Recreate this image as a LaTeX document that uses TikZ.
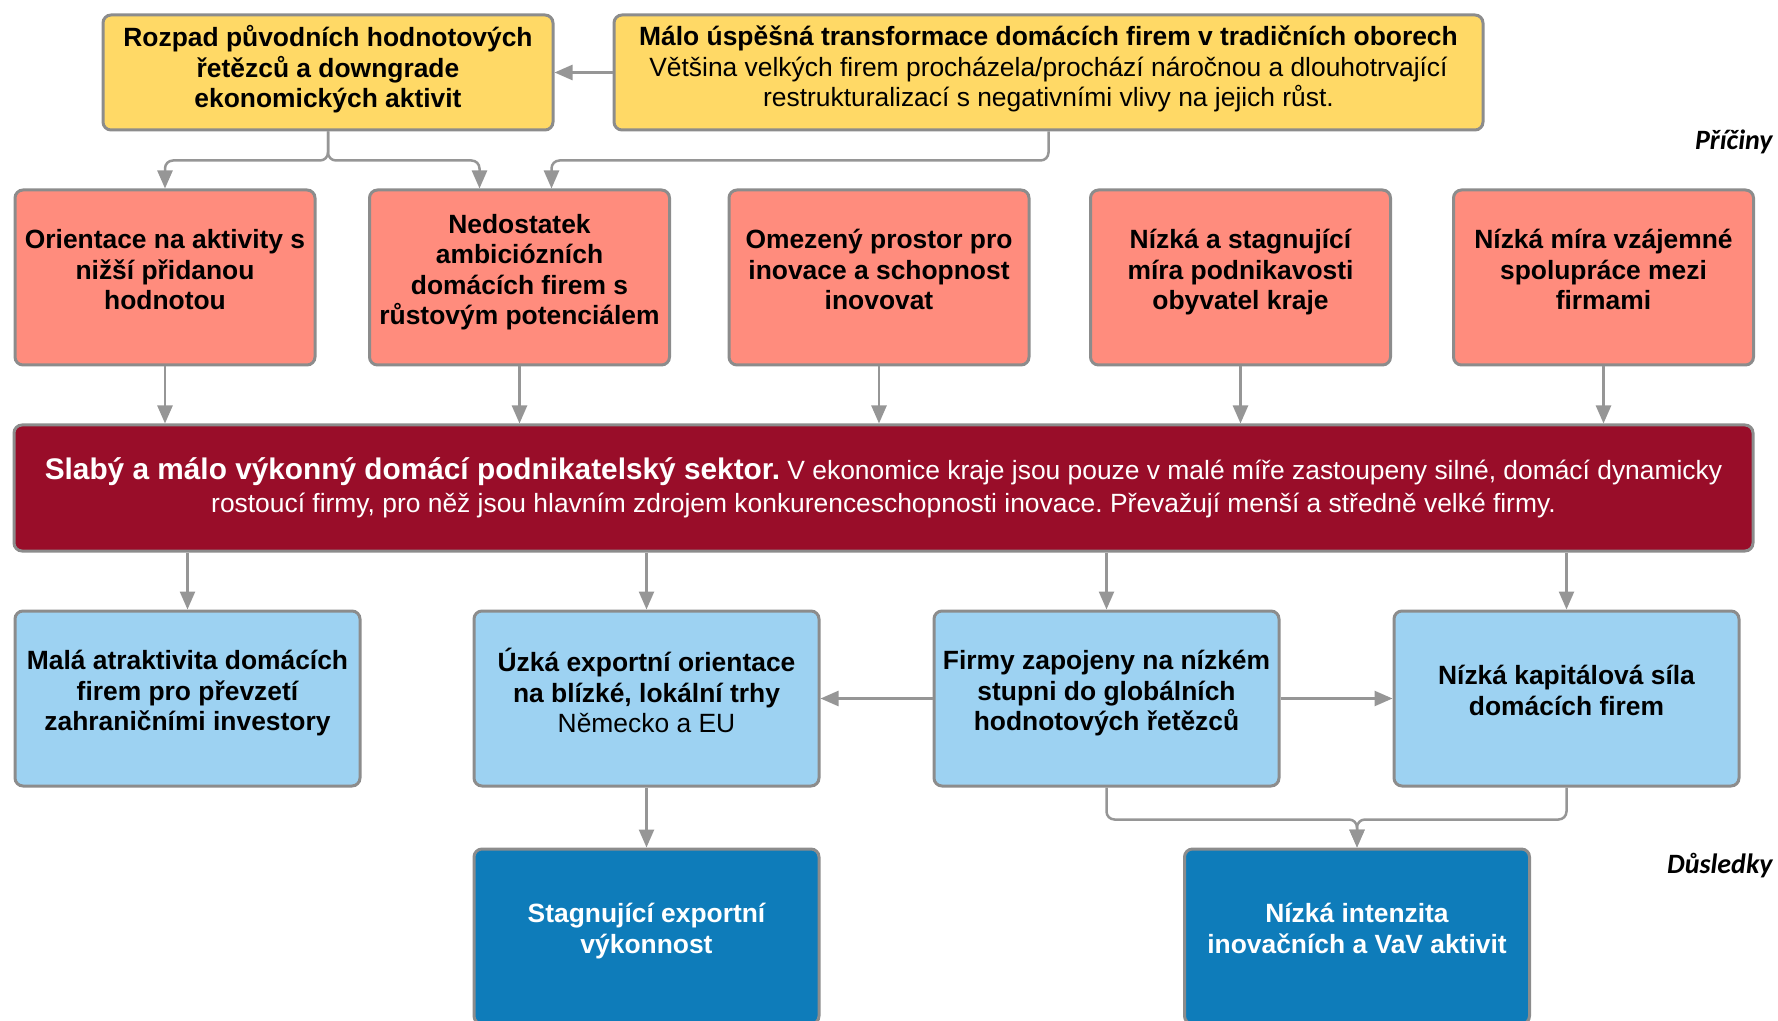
\documentclass[tikz,border=0pt]{standalone}
\usepackage{fontspec}
\setmainfont{Liberation Sans}
\newfontfamily\sidefont{Carlito}
\usepackage{xcolor}
\definecolor{lightyellow}{RGB}{255,217,102}
\definecolor{salmon}{RGB}{255,140,125}
\definecolor{winered}{RGB}{153,13,41}
\definecolor{skyblue}{RGB}{157,210,242}
\definecolor{deepblue}{RGB}{14,124,186}
\definecolor{boxline}{RGB}{140,140,140}
\definecolor{linkgray}{RGB}{150,150,150}
\usepackage{tikz}
\usetikzlibrary{arrows.meta}
\frenchspacing
\newcommand{\boxfont}{\fontsize{13.2}{15.3}\selectfont}
\newcommand{\widthred}{150pt}
\newcommand{\widthblue}{172.5pt}
\newcommand{\heightbox}{87.5pt}
\tikzset{
    box/.style={draw=boxline, line width=1.5pt, rounded corners=4pt, align=center, inner sep=2pt, font=\boxfont\bfseries},
    lifted/.style={box, text depth=8pt},
    reason/.style={lifted, fill=lightyellow, minimum height=57.5pt, text depth=6pt},
    cause/.style={lifted, fill=salmon, minimum width=\widthred, minimum height=\heightbox},
    core/.style={box, fill=winered, text=white, font=\fontsize{13.2}{16.5}\selectfont, minimum width=869.5pt, minimum height=63pt},
    effect/.style={lifted, fill=skyblue, minimum width=\widthblue, minimum height=\heightbox},
    impact/.style={lifted, fill=deepblue, text=white, minimum width=\widthblue, minimum height=\heightbox},
    link/.style={draw=linkgray, line width=1.25pt, rounded corners=4pt, -{Triangle[length=9pt, width=7.5pt]}},
    side/.style={anchor=east, inner sep=0pt, font=\sidefont\fontsize{14}{16}\selectfont\bfseries\itshape}
}

\begin{document}
\begin{tikzpicture}[x=0.5pt, y=-0.5pt]
      \useasboundingbox (0,0) rectangle (1778,1021);

      % causes
      \path
          (328,72.5) node[reason, minimum width=225pt] (reason-decline)
              {Rozpad původních hodnotových\\ řetězců a downgrade\\ ekonomických aktivit}
          (1048.5,72.5) node[reason, minimum width=434.5pt] (reason-transform)
              {Málo úspěšná transformace domácích firem v tradičních oborech\\
               \mdseries Většina velkých firem procházela/prochází náročnou a dlouhotrvající\\
               \mdseries restrukturalizací s negativními vlivy na jejich růst.}
          (1773,142) node[side] (label-causes) {Příčiny};

      \path
          (165,277.5) node[cause] (cause-lower) {Orientace na aktivity s\\ nižší přidanou\\ hodnotou}
          (519.5,277.5) node[cause] (cause-ambition) {Nedostatek\\ ambiciózních\\ domácích firem s\\ růstovým potenciálem}
          (879,277.5) node[cause] (cause-space) {Omezený prostor pro\\ inovace a schopnost\\ inovovat}
          (1240.5,277.5) node[cause] (cause-enterprise) {Nízká a stagnující\\ míra podnikavosti\\ obyvatel kraje}
          (1603.5,277.5) node[cause] (cause-cooperation) {Nízká míra vzájemné\\ spolupráce mezi\\ firmami};

      \draw[link] (reason-transform.west) -- (reason-decline.east);
      \draw[link] (reason-decline.south) -- ++(0,29) -| (cause-lower.north);
      \draw[link] (reason-decline.south) -- ++(0,29) -| ([xshift=-20pt]cause-ambition.north);
      \draw[link] (reason-transform.south) -- ++(0,29) -| ([xshift=16pt]cause-ambition.north);

      % core problem
      \path
          (883.5,488) node[core] (core)
              {{\fontsize{14.9}{16.5}\selectfont\bfseries Slabý a málo výkonný domácí podnikatelský sektor.} V ekonomice kraje jsou pouze v malé míře zastoupeny silné, domácí dynamicky\\
               rostoucí firmy, pro něž jsou hlavním zdrojem konkurenceschopnosti inovace. Převažují menší a středně velké firmy.};

      \draw[link] (cause-lower.south) -- (cause-lower.south |- core.north);
      \draw[link] (cause-ambition.south) -- (cause-ambition.south |- core.north);
      \draw[link] (cause-space.south) -- (cause-space.south |- core.north);
      \draw[link] (cause-enterprise.south) -- (cause-enterprise.south |- core.north);
      \draw[link] (cause-cooperation.south) -- (cause-cooperation.south |- core.north);

      % effects
      \path
          (187.5,698.5) node[effect] (effect-takeover) {Malá atraktivita domácích\\ firem pro převzetí\\ zahraničními investory}
          (646.5,698.5) node[effect] (effect-export) {Úzká exportní orientace\\ na blízké, lokální trhy\\ \mdseries Německo a EU}
          (1106.5,698.5) node[effect] (effect-chains) {Firmy zapojeny na nízkém\\ stupni do globálních\\ hodnotových řetězců}
          (1566.5,698.5) node[effect] (effect-capital) {Nízká kapitálová síla\\ domácích firem};

      \draw[link] (core.south -| effect-takeover.north) -- (effect-takeover.north);
      \draw[link] (core.south -| effect-export.north) -- (effect-export.north);
      \draw[link] (core.south -| effect-chains.north) -- (effect-chains.north);
      \draw[link] (core.south -| effect-capital.north) -- (effect-capital.north);
      \draw[link] (effect-chains.west) -- (effect-export.east);
      \draw[link] (effect-chains.east) -- (effect-capital.west);

      \path
          (646.5,936.5) node[impact] (impact-export) {Stagnující exportní\\ výkonnost}
          (1357,936.5) node[impact] (impact-innovation) {Nízká intenzita\\ inovačních a VaV aktivit}
          (1773,866) node[side] (label-effects) {Důsledky};

      \draw[link] (effect-export.south) -- (impact-export.north);
      \draw[link] (effect-chains.south) -- ++(0,32) -| (impact-innovation.north);
      \draw[link] (effect-capital.south) -- ++(0,32) -| (impact-innovation.north);
\end{tikzpicture}
\end{document}
